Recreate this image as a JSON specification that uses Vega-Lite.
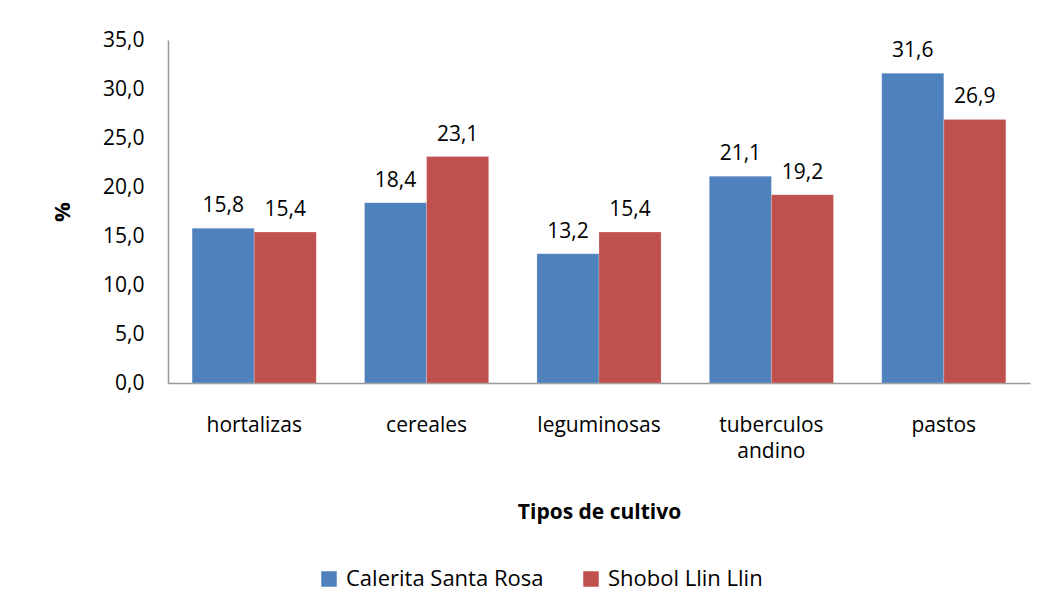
{
  "$schema": "https://vega.github.io/schema/vega-lite/v6.json",
  "width": 862,
  "height": 343,
  "autosize": {"type": "none"},
  "padding": {"left": 168, "top": 40, "right": 14, "bottom": 231},
  "background": "white",
  "config": {
    "locale": {"number": {"decimal": ",", "thousands": ".", "grouping": [3], "currency": ["", " €"]}},
    "font": "Open Sans",
    "view": {"stroke": null},
    "axis": {"labelFont": "Open Sans", "titleFont": "Open Sans", "labelColor": "#000", "titleColor": "#000"}
  },
  "data": {
    "values": [
      {"cultivo": "hortalizas", "lugar": "Calerita Santa Rosa", "pct": 15.8},
      {"cultivo": "hortalizas", "lugar": "Shobol Llin Llin", "pct": 15.4},
      {"cultivo": "cereales", "lugar": "Calerita Santa Rosa", "pct": 18.4},
      {"cultivo": "cereales", "lugar": "Shobol Llin Llin", "pct": 23.1},
      {"cultivo": "leguminosas", "lugar": "Calerita Santa Rosa", "pct": 13.2},
      {"cultivo": "leguminosas", "lugar": "Shobol Llin Llin", "pct": 15.4},
      {"cultivo": "tuberculos andino", "lugar": "Calerita Santa Rosa", "pct": 21.1},
      {"cultivo": "tuberculos andino", "lugar": "Shobol Llin Llin", "pct": 19.2},
      {"cultivo": "pastos", "lugar": "Calerita Santa Rosa", "pct": 31.6},
      {"cultivo": "pastos", "lugar": "Shobol Llin Llin", "pct": 26.9}
    ]
  },
  "encoding": {
    "x": {
      "field": "cultivo", "type": "nominal", "sort": null,
      "scale": {"paddingInner": 0.28, "paddingOuter": 0.14},
      "axis": {
        "title": "Tipos de cultivo", "titleFontSize": 21, "titleFontWeight": "bold", "titlePadding": 40,
        "labelAngle": 0, "labelFontSize": 21, "labelPadding": 31, "ticks": false,
        "domainColor": "#999", "domainWidth": 1.5, "labelLineHeight": 26,
        "labelExpr": "datum.value == 'tuberculos andino' ? ['tuberculos', 'andino'] : datum.value"
      }
    },
    "xOffset": {"field": "lugar", "type": "nominal", "scale": {"paddingInner": 0, "paddingOuter": 0}},
    "y": {
      "field": "pct", "type": "quantitative",
      "scale": {"domain": [0, 35], "nice": false},
      "axis": {
        "title": "%", "titleFontSize": 22, "titleFontWeight": "bold", "titlePadding": 28,
        "values": [0, 5, 10, 15, 20, 25, 30, 35], "format": ".1f",
        "labelFontSize": 21, "labelPadding": 24, "ticks": false, "grid": false,
        "domainColor": "#999", "domainWidth": 1.5
      }
    }
  },
  "layer": [
    {
      "mark": {"type": "bar", "stroke": "#ffffff", "strokeWidth": 0.5, "strokeOpacity": 0.4},
      "encoding": {
        "color": {
          "field": "lugar", "type": "nominal",
          "scale": {"domain": ["Calerita Santa Rosa", "Shobol Llin Llin"], "range": ["#4F81BD", "#C0504D"]},
          "legend": {
            "title": null, "orient": "none", "legendX": 150, "legendY": 528, "direction": "horizontal",
            "symbolType": "square", "symbolSize": 240, "symbolStrokeWidth": 0, "labelLimit": 0,
            "labelFontSize": 22, "labelFont": "Open Sans", "columnPadding": 36, "labelOffset": 6
          }
        }
      }
    },
    {
      "mark": {"type": "text", "baseline": "bottom", "dy": -12, "fontSize": 21, "font": "Open Sans", "color": "#000"},
      "encoding": {"text": {"field": "pct", "type": "quantitative", "format": ".1f"}}
    }
  ]
}
